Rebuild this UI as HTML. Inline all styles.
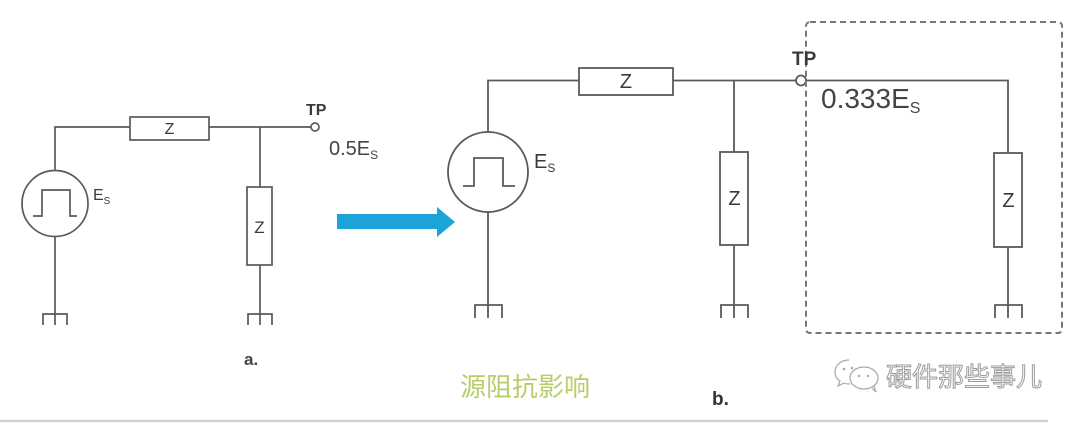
<!DOCTYPE html>
<html>
<head>
<meta charset="utf-8">
<style>
  html,body{margin:0;padding:0;background:#fff;}
  body{width:1080px;height:424px;overflow:hidden;}
  svg{display:block;}
  text{font-family:"Liberation Sans","Noto Sans CJK SC",sans-serif;}
</style>
</head>
<body>
<svg width="1080" height="424" viewBox="0 0 1080 424" xmlns="http://www.w3.org/2000/svg">
  <rect width="1080" height="424" fill="#fff"/>

  <!-- ===== Circuit a ===== -->
  <g stroke="#5a5a5a" stroke-width="1.7" fill="none">
    <!-- top wire -->
    <path d="M55 170 V127 H130"/>
    <rect x="130" y="117" width="79" height="23" fill="#fff"/>
    <path d="M209 127 H311"/>
    <circle cx="315" cy="127" r="4" fill="#fff"/>
    <!-- source -->
    <circle cx="55" cy="203.5" r="33" fill="#fff"/>
    <path d="M33 216 H42 V190 H70 V216 H77"/>
    <path d="M55 237 V325"/>
    <path d="M43 325 V314 H67 V325"/>
    <!-- shunt Z -->
    <path d="M260 127 V187"/>
    <rect x="247" y="187" width="25" height="78" fill="#fff"/>
    <path d="M260 265 V325"/>
    <path d="M248 325 V314 H272 V325"/>
  </g>
  <g fill="#3a3a3a">
    <text x="169.5" y="134" font-size="16" text-anchor="middle">Z</text>
    <text x="259.5" y="233" font-size="17" text-anchor="middle">Z</text>
    <text x="93" y="200" font-size="16">E<tspan font-size="10" dy="4">S</tspan></text>
    <text x="306" y="115" font-size="16" font-weight="bold">TP</text>
    <text x="329" y="155" font-size="20" fill="#444">0.5E<tspan font-size="12" dy="4">S</tspan></text>
    <text x="244" y="365" font-size="17" font-weight="bold" fill="#444">a.</text>
  </g>

  <!-- ===== Arrow ===== -->
  <polygon points="337,214 437,214 437,207 455,222 437,237 437,229 337,229" fill="#1ca3d9"/>

  <!-- ===== Circuit b ===== -->
  <g stroke="#5a5a5a" stroke-width="1.8" fill="none">
    <path d="M488 132 V80.5 H579"/>
    <rect x="579" y="68" width="94" height="27" fill="#fff"/>
    <path d="M673 80.5 H796"/>
    <circle cx="801" cy="80.5" r="5" fill="#fff"/>
    <path d="M806 80.5 H1008 V153"/>
    <!-- source -->
    <circle cx="488" cy="172" r="40" fill="#fff"/>
    <path d="M463 186 H474 V158 H503 V186 H515"/>
    <path d="M488 212 V318"/>
    <path d="M475 318 V305 H502 V318"/>
    <!-- middle Z -->
    <path d="M734 80.5 V152"/>
    <rect x="720" y="152" width="28" height="93" fill="#fff"/>
    <path d="M734 245 V318"/>
    <path d="M721 318 V305 H748 V318"/>
    <!-- right Z -->
    <rect x="994" y="153" width="28" height="94" fill="#fff"/>
    <path d="M1008 247 V318"/>
    <path d="M995 318 V305 H1022 V318"/>
  </g>
  <!-- dashed box -->
  <rect x="806" y="22" width="256" height="311" rx="4" fill="none" stroke="#777" stroke-width="2" stroke-dasharray="6 4"/>

  <g fill="#3a3a3a">
    <text x="626" y="88" font-size="20" text-anchor="middle">Z</text>
    <text x="734.5" y="205" font-size="20" text-anchor="middle">Z</text>
    <text x="1008.5" y="207" font-size="20" text-anchor="middle">Z</text>
    <text x="534" y="168" font-size="20">E<tspan font-size="12" dy="4">S</tspan></text>
    <text x="792" y="65" font-size="19" font-weight="bold">TP</text>
    <text x="821" y="108" font-size="28" fill="#444">0.333E<tspan font-size="16" dy="5">S</tspan></text>
    <text x="712" y="405" font-size="19" font-weight="bold" fill="#333">b.</text>
  </g>

  <!-- caption -->
  <text x="460" y="396" font-size="26" fill="#b7ce68" font-family="'Liberation Sans','Noto Sans CJK SC',sans-serif">源阻抗影响</text>

  <!-- watermark -->
  <g fill="#fff" stroke="#a8a8a8" stroke-width="1.2">
    <path d="M849 360 C840 360 835 366 835 372 C835 376 837 379 840 381 L838 386 L844 383 C846 384 848 384 850 384"/>
    <ellipse cx="864" cy="378" rx="14" ry="11"/>
    <path d="M872 388 L876 392 L874 386"/>
  </g>
  <g fill="#a8a8a8">
    <circle cx="844" cy="369" r="1.3"/>
    <circle cx="852" cy="368" r="1.3"/>
    <circle cx="859" cy="376" r="1.2"/>
    <circle cx="868" cy="376" r="1.2"/>
  </g>
  <text x="886" y="386" font-size="26" fill="#fff" stroke="#9c9c9c" stroke-width="1" font-family="'Liberation Sans','Noto Sans CJK SC',sans-serif">硬件那些事儿</text>

  <!-- bottom rule -->
  <line x1="0" y1="421" x2="1048" y2="421" stroke="#d2d2d2" stroke-width="2.5"/>
</svg>
</body>
</html>
